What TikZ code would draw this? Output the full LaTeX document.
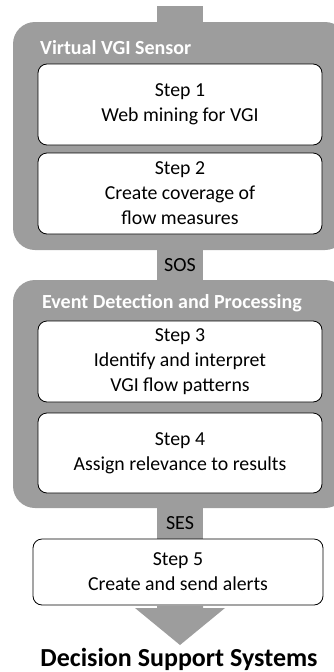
\documentclass[tikz,border=0pt]{standalone}
\usepackage{fontspec}
\setmainfont{Carlito}
\usetikzlibrary{calc}
\definecolor{grp}{RGB}{157,157,157}
\tikzset{
  group/.style={fill=grp, draw=none, rounded corners=22pt, minimum width=334pt, inner sep=0pt},
  stepbox/.style={draw=black, fill=white, line width=0.8pt, rounded corners=9pt, minimum width=284pt, align=center, inner sep=0pt, font=\fontsize{19.8}{25}\selectfont},
  gtitle/.style={anchor=west, text=white, font=\fontsize{20}{24}\selectfont\bfseries, inner sep=0pt},
  stemlabel/.style={font=\fontsize{20}{24}\selectfont, inner sep=0pt},
}
\begin{document}
\begin{tikzpicture}[x=1pt,y=-1pt]
\useasboundingbox (0,0) rectangle (334,672);
% top stem
\coordinate (top) at (180,6);
% groups
\node[group, minimum height=228pt] (g1) at (180,136) {};
\node[group, minimum height=228pt] (g2) at (180,394) {};
\fill[grp] ($(top)+(-23,0)$) rectangle ($(g1.north)+(23,1)$);
\fill[grp] ($(g1.south)+(-23,-1)$) rectangle ($(g2.north)+(23,1)$);
% titles
\node[gtitle] (t1) at (40,48) {Virtual VGI Sensor};
\node[gtitle] (t2) at (42,303) {Event Detection and Processing};
% steps
\node[stepbox, minimum height=81pt] (s1) at (180,104.5) {Step 1\\Web mining for VGI};
\node[stepbox, minimum height=81pt] (s2) at (180,193.5) {Step 2\\Create coverage of\\flow measures};
\node[stepbox, minimum height=81pt] (s3) at (180,361.5) {Step 3\\Identify and interpret\\VGI flow patterns};
\node[stepbox, minimum height=80pt] (s4) at (180,453) {Step 4\\Assign relevance to results};
% SES stem
\fill[grp] ($(g2.south)+(-23,-1)$) rectangle (203,540);
\node[stepbox, minimum width=290pt, minimum height=66pt] (s5) at (178,572) {Step 5\\Create and send alerts};
% stem labels
\node[stemlabel] (sos) at (180,265) {SOS};
\node[stemlabel] (ses) at (180,523) {SES};
% final arrow
\node[font=\fontsize{26}{30}\selectfont\bfseries, inner sep=0pt] (dss) at (179,659) {Decision Support Systems};
\coordinate (tip) at (180,645);
\fill[grp] (157,605.5) -- (157,608) -- (135,608) -- (tip) -- (225,608) -- (203,608) -- (203,605.5) -- cycle;
\end{tikzpicture}
\end{document}
